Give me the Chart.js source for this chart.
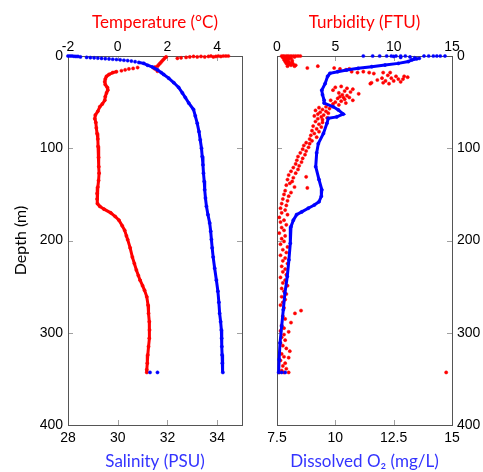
<!DOCTYPE html>
<html>
<head>
<meta charset="utf-8">
<script src="https://cdn.jsdelivr.net/npm/chart.js@4"></script>
<style>
  body { margin: 0; background: #fff; }
  #wrap { position: relative; width: 483px; height: 472px; }
  canvas { position: absolute; top: 0; }
</style>
</head>
<body>
<div id="wrap">
  <canvas id="leftChart" width="250" height="472" style="left:0"></canvas>
  <canvas id="rightChart" width="233" height="472" style="left:250px"></canvas>
</div>
<script>
// ---- data (depth in m) ----

// temperature, scattered near-surface readings
const tempSurfDepth = [0, 0, 0, 0.5, 0, 0.5, 1, 0, 0.5, 1, 0.5, 1, 0.5, 1, 1.5, 2, 2.5, 1, 2, 3.5, 5, 6.5, 8, 9.5, 11, 12, 13, 14, 16.5, 12.5, 13.5, 14, 15, 16];
const tempSurfValue = [4.45, 4.35, 4.25, 4.15, 4.05, 3.95, 3.85, 3.75, 3.65, 3.5, 3.35, 3.2, 3.05, 2.9, 2.75, 2.55, 2.4, 1.95, 1.9, 1.85, 1.8, 1.75, 1.7, 1.65, 1.6, 1.5, 1.45, 1.5, 1.6, 0.8, 0.62, 0.45, 0.3, 0.15];
// temperature, continuous profile
const tempDepth = [17, 18, 20, 22, 25, 28, 31, 34, 37, 40, 44, 48, 52, 55, 60, 64, 68, 72, 78, 84, 90, 98, 110, 120, 127, 135, 142, 149, 155, 160, 163, 166, 170, 174, 178, 184, 189, 195, 199, 208, 218, 225, 232, 238, 243, 249, 254, 261, 270, 279, 288, 297, 306, 315, 324, 333, 340, 343];
const tempValue = [-0.05, -0.2, -0.35, -0.45, -0.5, -0.52, -0.5, -0.42, -0.4, -0.45, -0.5, -0.52, -0.62, -0.72, -0.8, -0.9, -0.92, -0.88, -0.86, -0.83, -0.8, -0.79, -0.77, -0.76, -0.75, -0.77, -0.8, -0.83, -0.83, -0.81, -0.72, -0.55, -0.28, -0.1, 0.05, 0.18, 0.28, 0.35, 0.4, 0.5, 0.59, 0.67, 0.75, 0.83, 0.9, 1.0, 1.08, 1.17, 1.22, 1.24, 1.27, 1.28, 1.27, 1.24, 1.21, 1.19, 1.17, 1.17];

// salinity, scattered surface readings (+ two at the bottom)
const salSurfDepth = [0, 0, 0, 0.3, 0.5, 0.5, 1, 1.5, 1.8, 2, 2.3, 2.6, 2.9, 3.2, 3.5, 3.8, 4.2, 4.6, 5, 5.5, 6.2, 343, 343];
const salSurfValue = [28.0, 28.08, 28.16, 28.24, 28.32, 28.4, 28.5, 28.75, 28.9, 29.05, 29.2, 29.35, 29.5, 29.65, 29.8, 29.95, 30.1, 30.25, 30.4, 30.55, 30.7, 31.3, 31.6];
// salinity, continuous profile
const salDepth = [7, 8, 10, 12, 15, 18, 20, 24, 29, 34, 40, 45, 51, 58, 65, 73, 82, 91, 100, 109, 118, 127, 136, 145, 154, 163, 172, 181, 190, 199, 208, 218, 230, 243, 255, 267, 279, 288, 297, 306, 315, 324, 333, 343];
const salValue = [30.85, 31.05, 31.2, 31.4, 31.6, 31.75, 31.85, 32.05, 32.26, 32.45, 32.6, 32.72, 32.86, 33.05, 33.12, 33.2, 33.27, 33.32, 33.37, 33.4, 33.43, 33.45, 33.48, 33.5, 33.53, 33.57, 33.63, 33.7, 33.74, 33.77, 33.8, 33.84, 33.9, 33.97, 34.03, 34.07, 34.1, 34.14, 34.17, 34.18, 34.19, 34.2, 34.21, 34.23];

// turbidity (FTU), scattered readings
const turbDepth = [
  0, 0, 0, 0, 0, 0, 0, 0, 0, 0.5, 0.5, 1, 1, 1, 1.5, 2, 2, 2.5, 3, 3, 4, 4, 5, 5, 6, 6, 7, 7, 8, 8, 9, 9, 10, 10, 11, 11,
  11, 13, 13, 14, 15, 14, 17, 18, 17, 18, 19, 18, 18,
  21, 22, 22, 23, 24, 24, 25, 25, 26, 27, 27, 28, 29, 29, 30, 30,
  33, 34, 35, 36, 37, 38, 39, 40, 41, 42, 43, 44, 45, 45, 46, 47, 48, 48, 49, 50, 51, 52, 53,
  55, 56, 57, 58, 59, 60, 61, 62, 63, 64, 65, 66, 67, 68, 69,
  71, 72, 74, 76, 77, 79, 81, 82, 84, 86, 88, 90,
  92, 94, 95, 97, 99, 101, 103, 105, 107, 109, 111, 113, 115, 117, 119,
  121, 123, 125, 127, 129, 131, 132, 134, 136, 138, 140, 143, 142,
  146, 148, 150, 152, 155, 157, 160, 162, 165, 167, 170, 172, 175, 178, 180, 183, 186, 189, 192, 195, 198,
  201, 204, 207, 210, 213, 216, 219, 222, 225, 228, 231, 234, 237, 240, 243, 246, 249, 252, 255, 258, 261, 264, 267, 270, 273,
  276, 279, 282, 285, 289, 292, 295, 298, 299, 302, 305, 308, 311, 314, 317, 320, 323, 326, 327, 330, 333, 336, 339, 341, 343, 343, 343, 343
];
const turbValue = [
  0.4, 0.6, 0.8, 1.0, 1.2, 1.4, 1.6, 1.8, 2.0, 0.5, 0.9, 0.7, 1.1, 1.5, 0.5, 0.6, 0.9, 1.2, 0.7, 1.0, 0.6, 0.9, 0.8, 1.3, 0.7, 1.0, 0.9, 1.3, 0.8, 1.1, 1.0, 1.4, 1.2, 1.6, 0.9, 1.5,
  3.5, 2.6, 4.9, 5.4, 5.9, 6.2, 6.4, 6.9, 7.4, 7.9, 8.3, 9.1, 9.7,
  9.5, 10.2, 10.9, 11.2, 9.0, 9.8, 10.4, 10.8, 8.6, 9.3, 10.0, 10.6, 9.1, 8.1, 9.6, 8.0,
  5.5, 5.0, 6.0, 6.5, 4.8, 5.8, 6.3, 5.3, 7.0, 5.6, 6.0, 5.4, 5.7, 6.2, 5.2, 5.8, 4.6, 6.5, 5.5, 5.0, 5.9, 4.8, 5.3,
  4.2, 3.6, 4.5, 3.9, 3.3, 4.2, 3.7, 4.4, 3.5, 4.0, 3.2, 3.8, 4.3, 3.5, 3.9,
  3.3, 3.9, 3.6, 3.1, 3.8, 3.4, 3.0, 3.6, 3.2, 2.9, 3.4, 2.8,
  3.0, 2.5, 2.8, 2.3, 2.7, 2.2, 2.5, 2.0, 2.4, 1.8, 2.2, 1.7, 2.1, 1.6, 1.9,
  1.4, 1.8, 1.2, 1.6, 1.0, 2.5, 1.4, 0.9, 1.3, 1.1, 0.8, 2.6, 1.5,
  0.7, 1.2, 0.6, 1.0, 0.5, 0.9, 0.4, 0.8, 0.3, 0.7, 0.4, 0.9, 0.2, 0.6, 0.3, 0.8, 0.4, 0.6, 0.2, 0.7, 0.4,
  0.6, 0.3, 0.9, 0.5, 0.8, 0.3, 0.7, 0.5, 0.9, 0.4, 0.7, 0.5, 0.8, 0.3, 0.7, 0.5, 0.9, 0.4, 0.6, 0.8, 0.4, 0.7, 0.5, 0.3, 0.6,
  2.06, 1.54, 0.5, 0.7, 1.2, 0.4, 0.6, 0.3, 1.0, 0.6, 0.4, 0.7, 0.3, 0.5, 0.8, 1.1, 0.4, 0.6, 1.0, 0.3, 0.7, 0.5, 0.8, 0.4, 0.2, 0.6, 1.0, 14.5
];

// dissolved O2 (mg/L), scattered surface readings (+ bottom)
const o2SurfDepth = [0, 0, 0, 0, 0, 0, 0, 0, 0.5, 1, 1.5, 2, 2.5, 0, 0, 0, 0, 0, 0, 343, 343];
const o2SurfValue = [11.2, 11.6, 11.9, 12.2, 12.4, 12.6, 12.8, 13.0, 12.5, 13.2, 12.8, 13.4, 13.6, 13.8, 14.0, 14.2, 14.35, 14.5, 14.7, 7.7, 7.85];
// dissolved O2, continuous profile
const o2Depth = [3, 4.3, 6, 8, 9.8, 11.6, 13.4, 15.2, 17, 18.8, 22, 30, 37, 42, 48, 51, 55, 58.5, 63, 66, 67.6, 73, 84, 95, 105, 120, 134, 145, 152, 158, 161.5, 165, 169, 172, 178, 185, 203, 221, 239, 257, 275, 293, 311, 329, 343];
const o2Value = [13.5, 13.27, 13.13, 12.7, 12.13, 11.56, 10.98, 10.49, 10.1, 9.77, 9.67, 9.56, 9.42, 9.45, 9.52, 9.52, 9.91, 10.13, 10.34, 10.06, 9.7, 9.64, 9.49, 9.27, 9.2, 9.16, 9.3, 9.42, 9.4, 9.3, 9.1, 8.84, 8.56, 8.34, 8.2, 8.1, 8.07, 8.01, 7.94, 7.84, 7.77, 7.7, 7.63, 7.59, 7.57];

// tick labels
const depthTicks = [0, 100, 200, 300, 400];
const tempTicks = [-2, 0, 2, 4];
const salTicks = [28, 30, 32, 34];
const turbTicks = [0, 5, 10, 15];
const o2Ticks = [7.5, 10, 12.5, 15];

const RED = "#ff0000";
const BLUE = "#0000ff";

const pts = (depths, vals) => depths.map((d, i) => ({ x: vals[i], y: d }));

const tickFont = { family: "Liberation Sans", size: 14 };
const titleFont = { family: "Lato", size: 17 };

const setTicks = (list) => (s) => {
  s.ticks = list.map((v) => ({ value: v }));
};

// box round the plot area + small inward ticks
const frame = {
  id: "frame",
  beforeDatasetsDraw(chart) {
    const { ctx, chartArea: a, scales } = chart;
    ctx.save();
    ctx.strokeStyle = "#a0a0a0";
    ctx.lineWidth = 1;
    Object.values(scales).forEach((s) => {
      s.ticks.forEach((t) => {
        const p = Math.round(s.getPixelForValue(t.value)) + 0.5;
        ctx.beginPath();
        if (s.isHorizontal()) {
          const y0 = s.position === "top" ? a.top : a.bottom;
          const dir = s.position === "top" ? 1 : -1;
          ctx.moveTo(p, y0);
          ctx.lineTo(p, y0 + dir * 5);
        } else {
          ctx.moveTo(a.left, p);
          ctx.lineTo(a.left + 5, p);
          ctx.moveTo(a.right, p);
          ctx.lineTo(a.right - 5, p);
        }
        ctx.stroke();
      });
    });
    ctx.strokeStyle = "#555";
    ctx.strokeRect(Math.round(a.left) + 0.5, Math.round(a.top) + 0.5, Math.round(a.right - a.left), Math.round(a.bottom - a.top));
    ctx.restore();
  },
};

const scatterSet = (data, color, axis) => ({
  data,
  xAxisID: axis,
  showLine: false,
  pointRadius: 1.6,
  pointBorderWidth: 0.5,
  pointBackgroundColor: color,
  pointBorderColor: color,
  clip: false,
});

const lineSet = (data, color, axis) => ({
  data,
  xAxisID: axis,
  showLine: true,
  borderColor: color,
  borderWidth: 3,
  pointRadius: 1.6,
  pointBorderWidth: 0.5,
  pointBackgroundColor: color,
  pointBorderColor: color,
  tension: 0,
  clip: false,
});

const xAxis = (position, min, max, ticks, title, color, height, titlePad, tickPad) => ({
  type: "linear",
  position,
  min,
  max,
  afterBuildTicks: setTicks(ticks),
  afterFit: (s) => { s.height = height; },
  grid: { display: false, drawTicks: false },
  border: { display: false },
  ticks: { color: "#000", font: tickFont, padding: tickPad, maxRotation: 0 },
  title: { display: true, text: title, color, font: titleFont, padding: titlePad },
});

const yAxis = (position, width, withTitle) => ({
  type: "linear",
  position,
  reverse: true,
  min: 0,
  max: 400,
  afterBuildTicks: setTicks(depthTicks),
  afterFit: (s) => { s.width = width; },
  grid: { display: false, drawTicks: false },
  border: { display: false },
  ticks: { color: "#000", font: tickFont, padding: 5 },
  title: {
    display: withTitle,
    text: "Depth (m)",
    color: "#000",
    font: { family: "Lato", size: 16 },
    padding: { top: 11, bottom: 0 },
  },
});

const common = {
  responsive: false,
  animation: false,
  events: [],
  plugins: { legend: { display: false }, tooltip: { enabled: false } },
};

new Chart(document.getElementById("leftChart"), {
  type: "scatter",
  data: {
    datasets: [
      lineSet(pts(salDepth, salValue), BLUE, "xS"),
      scatterSet(pts(salSurfDepth, salSurfValue), BLUE, "xS"),
      lineSet(pts(tempDepth, tempValue), RED, "xT"),
      scatterSet(pts(tempSurfDepth, tempSurfValue), RED, "xT"),
    ],
  },
  options: {
    ...common,
    layout: { padding: { left: 0, right: 8, top: 0, bottom: 0 } },
    scales: {
      xT: xAxis("top", -2, 5, tempTicks, "Temperature (°C)", RED, 56, { top: 12, bottom: 0 }, 0),
      xS: xAxis("bottom", 28, 35, salTicks, "Salinity (PSU)", "#3333ff", 47, { top: 0, bottom: 0 }, 5),
      y: yAxis("left", 68, true),
    },
  },
  plugins: [frame],
});

new Chart(document.getElementById("rightChart"), {
  type: "scatter",
  data: {
    datasets: [
      lineSet(pts(o2Depth, o2Value), BLUE, "xO"),
      scatterSet(pts(o2SurfDepth, o2SurfValue), BLUE, "xO"),
      scatterSet(pts(turbDepth, turbValue), RED, "xF"),
    ],
  },
  options: {
    ...common,
    layout: { padding: { left: 27, right: 0, top: 0, bottom: 0 } },
    scales: {
      xF: xAxis("top", 0, 15, turbTicks, "Turbidity (FTU)", RED, 56, { top: 12, bottom: 0 }, 0),
      xO: xAxis("bottom", 7.5, 15, o2Ticks, "Dissolved O\u2082 (mg/L)", "#3333ff", 47, { top: 0, bottom: 0 }, 5),
      y: yAxis("right", 31, false),
    },
  },
  plugins: [frame],
});
</script>
</body>
</html>
